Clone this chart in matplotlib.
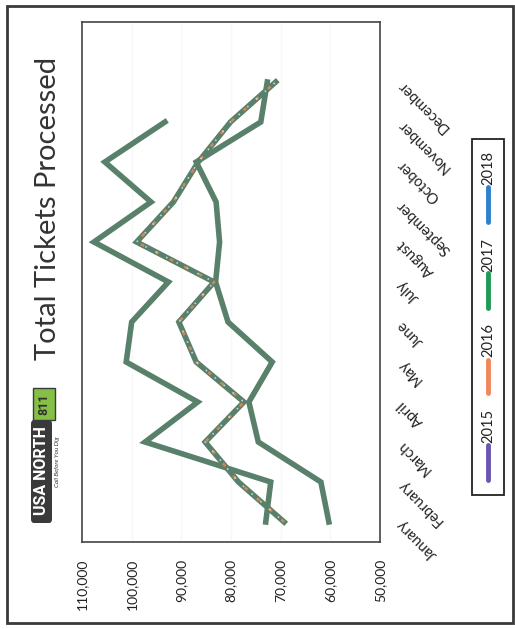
import matplotlib.pyplot as plt
from matplotlib.patches import Rectangle, FancyBboxPatch
from matplotlib.lines import Line2D

months = ['January', 'February', 'March', 'April', 'May', 'June',
          'July', 'August', 'September', 'October', 'November', 'December']

# monthly ticket counts (2018 stops at November)
tickets_2015 = [60300, 61900, 74500, 76400, 71700, 80600, 83100, 82300, 83000, 87000, 74000, 72700]
tickets_2016 = [69300, 78500, 85200, 77400, 87000, 90500, 83400, 99000, 91600, 86600, 80100, 71000]
tickets_2018 = [73000, 72000, 97300, 86700, 101100, 100000, 92600, 107600, 96100, 105400, 93300]

value_ticks = [110000, 100000, 90000, 80000, 70000, 60000, 50000]
value_labels = ['110,000', '100,000', '90,000', '80,000', '70,000', '60,000', '50,000']

legend_years = ['2015', '2016', '2017', '2018']
legend_colors = ['#6a55b0', '#f0875a', '#1e9a55', '#2f7fcf']

line_color = '#58806a'
plt.rcParams['font.family'] = ['Lato', 'DejaVu Sans']

W, H = 515, 629
fig = plt.figure(figsize=(W / 100, H / 100), dpi=100)


def fx(px):
    return px / W


def fy(py):
    return 1 - py / H


# page frame
fig.add_artist(Rectangle((fx(7), fy(623)), fx(513) - fx(7), fy(6) - fy(623),
                         transform=fig.transFigure, fill=False, lw=2, ec='#3a3a3a'))

# chart is laid out sideways: values run along x (reversed), months along y
ax = fig.add_axes([fx(82), fy(542), fx(380) - fx(82), fy(22) - fy(542)])
ax.set_xlim(110000, 50000)
ax.set_ylim(-0.5, 12.5)

for v in value_ticks[1:-1]:
    ax.axvline(v, color='#f8f8f8', lw=1, zorder=0)

for series in (tickets_2015, tickets_2016, tickets_2018):
    ax.plot(series, range(len(series)), color=line_color, lw=4,
            solid_joinstyle='miter', zorder=2)

# speckled overlay on the 2016 line
ax.plot(tickets_2016, range(len(tickets_2016)), color='#f08a55', lw=1.8,
        linestyle=(0, (1.5, 5)), alpha=0.8, zorder=3)
ax.plot(tickets_2016, range(len(tickets_2016)), color='#e6e6e6', lw=1.2,
        linestyle=(3, (1, 6)), alpha=0.8, zorder=3)

ax.set_xticks(value_ticks)
ax.set_xticklabels(value_labels, rotation=90, fontsize=10, color='#222222')
ax.tick_params(axis='x', length=0, pad=12)

ax.yaxis.tick_right()
ax.set_yticks(range(len(months)))
ax.set_yticklabels(months, rotation=135, ha='right', va='center',
                   rotation_mode='anchor', fontsize=10.5, color='#222222')
ax.tick_params(axis='y', length=0, pad=14)

for s in ax.spines.values():
    s.set_color('#444444')
    s.set_linewidth(1.2)

# title
fig.text(fx(48), fy(208), 'Total Tickets Processed', rotation=90,
         ha='center', va='center', fontsize=21, color='#333333')

# logo
fig.add_artist(FancyBboxPatch((fx(31), fy(523)), fx(52) - fx(31), fy(420) - fy(523),
                              boxstyle='round,pad=0,rounding_size=0.006',
                              transform=fig.transFigure, fc='#3a3a3a', ec='none'))
fig.add_artist(Rectangle((fx(33), fy(420)), fx(55) - fx(33), fy(388) - fy(420),
                         transform=fig.transFigure, fc='#86bf45', ec='#3a3a3a', lw=1))
fig.text(fx(41.5), fy(471), 'USA NORTH', rotation=90, ha='center', va='center',
         fontsize=11.5, fontweight='bold', color='white', family='Roboto')
fig.text(fx(44), fy(404), '811', rotation=90, ha='center', va='center',
         fontsize=9, fontweight='bold', color='#2e2e2e', family='Roboto')
fig.text(fx(58), fy(462), 'Call Before You Dig', rotation=90, ha='center',
         va='center', fontsize=4.5, style='italic', color='#333333')

# legend, reading bottom to top
fig.add_artist(Rectangle((fx(472), fy(495)), fx(504) - fx(472), fy(139) - fy(495),
                         transform=fig.transFigure, fill=False, lw=1.3, ec='#222222'))
seg_spans = [(480, 445), (393, 360), (308, 273), (222, 187)]
text_pos = [426, 340, 255, 168]
for year, col, (y0, y1), ty in zip(legend_years, legend_colors, seg_spans, text_pos):
    fig.add_artist(Line2D([fx(488), fx(488)], [fy(y0), fy(y1)], transform=fig.transFigure,
                          color=col, lw=3.5, solid_capstyle='round'))
    fig.text(fx(488), fy(ty), year, rotation=90, ha='center', va='center',
             fontsize=10.5, color='#222222')

fig.savefig('out.png', dpi=100)
